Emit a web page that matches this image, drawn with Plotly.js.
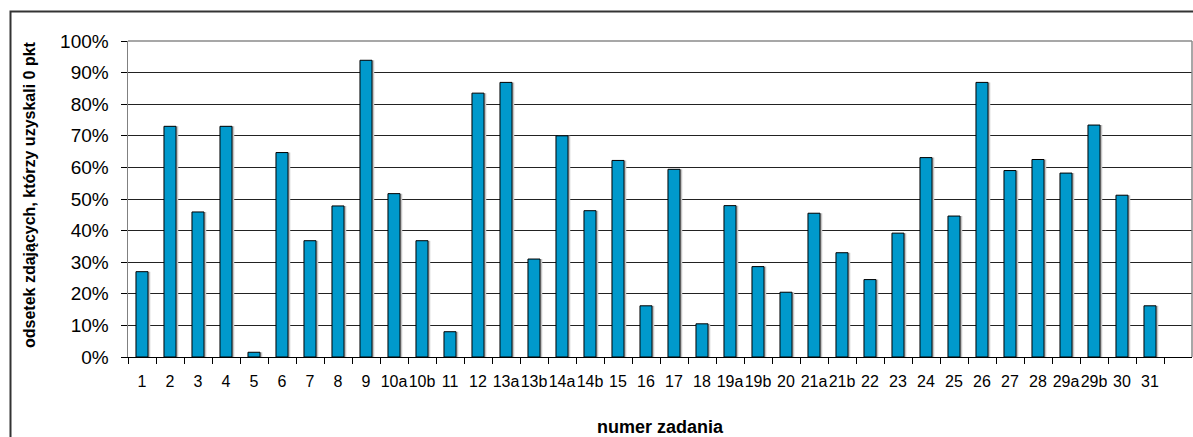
<!DOCTYPE html>
<html>
<head>
<meta charset="utf-8">
<script src="https://cdn.plot.ly/plotly-3.0.1.min.js"></script>
<style>
  html, body { margin: 0; padding: 0; background: #fff; }
  #chart { width: 1193px; height: 437px; }
</style>
</head>
<body>
<div id="chart"></div>
<script>
const categories = ["1","2","3","4","5","6","7","8","9","10a","10b","11","12","13a","13b","14a","14b","15","16","17","18","19a","19b","20","21a","21b","22","23","24","25","26","27","28","29a","29b","30","31"];
const values = [27.0,73.0,45.9,73.0,1.5,64.7,36.8,47.8,93.9,51.7,36.8,8.0,83.5,86.9,31.0,70.0,46.3,62.2,16.2,59.4,10.5,47.9,28.6,20.5,45.5,33.0,24.5,39.2,63.1,44.6,86.9,59.0,62.5,58.2,73.4,51.2,16.2];
const yTickVals = [0,10,20,30,40,50,60,70,80,90,100];
const yTickText = ["0%","10%","20%","30%","40%","50%","60%","70%","80%","90%","100%"];
const yTitle = "odsetek zdających, którzy uzyskali 0 pkt";
const xTitle = "numer zadania";

const FONT = '"Liberation Sans", Arial, sans-serif';
const BW = 0.43;

const shadow = {
  type: 'bar', x: categories, y: values,
  width: BW, offset: -BW/2 + 0.08,
  marker: { color: '#c4c4c4', line: { width: 0 } },
  hoverinfo: 'skip', showlegend: false
};
const bars = {
  type: 'bar', x: categories, y: values,
  width: BW, offset: -BW/2,
  marker: { color: '#0099cc', line: { color: '#000000', width: 1 } },
  showlegend: false
};

const L = 128, T = 41, W = 1064, H = 316;
function px(x) { return (x - L) / W; }
function py(y) { return (T + H - y) / H; }

const layout = {
  width: 1193, height: 437,
  margin: { l: 128, r: 1, t: 41, b: 80, pad: 0 },
  paper_bgcolor: '#ffffff', plot_bgcolor: '#ffffff',
  barmode: 'overlay',
  font: { family: FONT, color: '#000' },
  xaxis: {
    type: 'category',
    categoryorder: 'array', categoryarray: categories,
    range: [-0.5, 37.5],
    tickson: 'boundaries',
    tickangle: 0,
    ticks: 'outside', ticklen: 6, tickcolor: '#000', tickwidth: 1,
    showgrid: false, zeroline: false,
    showline: true, linecolor: '#000', linewidth: 1,
    tickfont: { family: FONT, size: 16, color: '#000' },
    ticklabelstandoff: 10,
    fixedrange: true
  },
  yaxis: {
    range: [0, 100],
    tickvals: yTickVals, ticktext: yTickText,
    ticks: 'outside', ticklen: 6, tickcolor: '#000', tickwidth: 1,
    showgrid: true, gridcolor: '#222', gridwidth: 1,
    zeroline: false,
    showline: true, linecolor: '#808080', linewidth: 1.5,
    tickfont: { family: FONT, size: 19, color: '#000' },
    ticklabelstandoff: 8,
    fixedrange: true
  },
  shapes: [
    { type: 'line', xref: 'paper', yref: 'paper', x0: 0, x1: 1, y0: 1, y1: 1, line: { color: '#8a8a8a', width: 1.5 } },
    { type: 'line', xref: 'paper', yref: 'paper', x0: 1, x1: 1, y0: 0, y1: 1, line: { color: '#8a8a8a', width: 1.5 } },
    { type: 'rect', xref: 'paper', yref: 'paper', x0: px(10.5), x1: px(1205), y0: py(450), y1: py(11.5), line: { color: '#333', width: 2 }, fillcolor: 'rgba(0,0,0,0)' }
  ],
  annotations: [
    { text: '<b>' + yTitle + '</b>', xref: 'paper', yref: 'paper', x: px(29), y: py(195), xanchor: 'center', yanchor: 'middle', textangle: -90, showarrow: false, font: { family: FONT, size: 16, color: '#000' } },
    { text: '<b>' + xTitle + '</b>', xref: 'paper', yref: 'paper', x: px(660), y: py(427), xanchor: 'center', yanchor: 'middle', showarrow: false, font: { family: FONT, size: 18, color: '#000' } }
  ]
};

Plotly.newPlot('chart', [shadow, bars], layout, { staticPlot: true, displayModeBar: false });
</script>
</body>
</html>
